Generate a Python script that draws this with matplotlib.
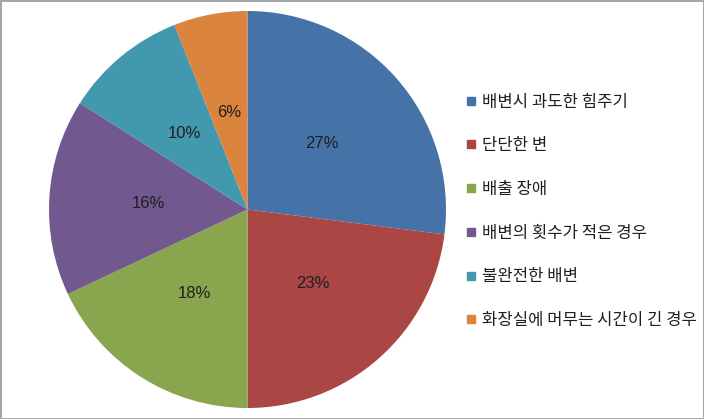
import matplotlib.pyplot as plt
from matplotlib.lines import Line2D

plt.rcParams['font.family'] = ['Noto Sans CJK KR', 'DejaVu Sans']

categories = ['배변시 과도한 힘주기', '단단한 변', '배출 장애',
              '배변의 횟수가 적은 경우', '불완전한 배변', '화장실에 머무는 시간이 긴 경우']
values = [27, 23, 18, 16, 10, 6]
colors = ['#4572A7', '#AA4643', '#89A54E', '#71588F', '#4198AF', '#DB843D']

fig = plt.figure(figsize=(7.04, 4.19), dpi=100)
fig.patch.set_edgecolor('#a6a6a6')
fig.patch.set_linewidth(2)

ax = fig.add_axes([49 / 704, 11 / 419, 397 / 704, 397 / 419])
wedges, texts, autotexts = ax.pie(values, colors=colors, startangle=90, counterclock=False,
                                  autopct='%d%%', pctdistance=0.5, radius=1,
                                  wedgeprops=dict(linewidth=0),
                                  textprops=dict(fontsize=12, color='#1f1f1f',
                                                 family='Liberation Sans'))
ax.set_xlim(-1, 1)
ax.set_ylim(-1, 1)
ax.set_aspect('equal')

handles = [Line2D([], [], marker='s', linestyle='none', markersize=6,
                  markerfacecolor=c, markeredgecolor=c) for c in colors]
leg = fig.legend(handles, categories, loc='upper left', bbox_to_anchor=(459 / 704, 1 - 87 / 419),
                 frameon=False, fontsize=12, labelspacing=1.6, handlelength=0.6,
                 handletextpad=0.35, borderaxespad=0)
for t in leg.get_texts():
    t.set_color('#1f1f1f')

fig.savefig('out.png', dpi=100)
